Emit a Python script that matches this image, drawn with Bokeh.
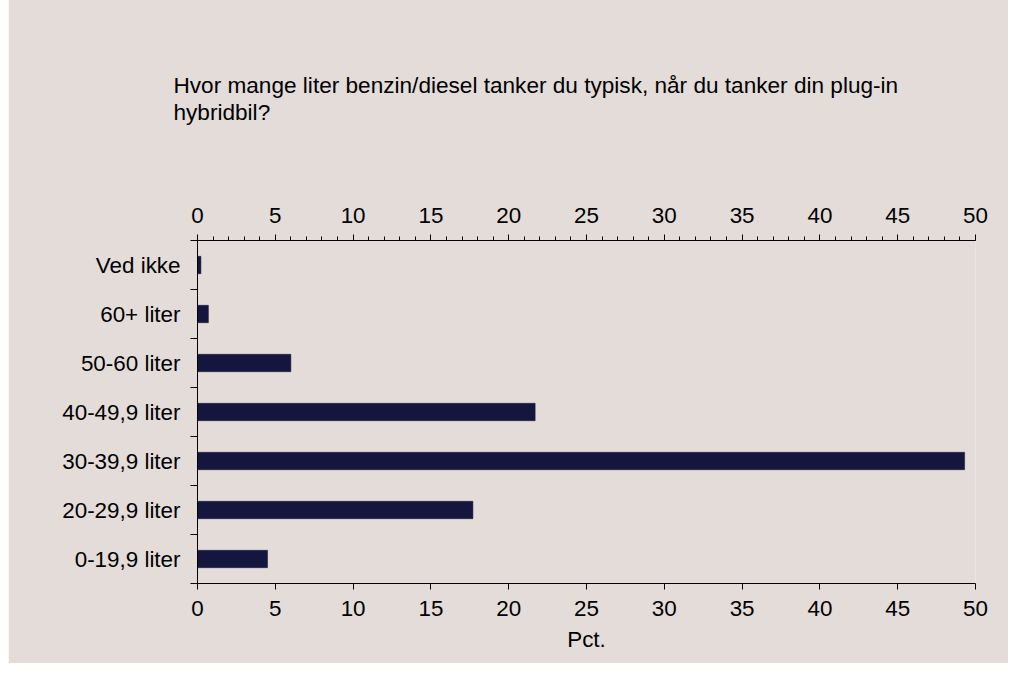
from bokeh.plotting import figure
from bokeh.models import LinearAxis, FixedTicker, Title, Range1d, SingleIntervalTicker
from bokeh.embed import file_html
from bokeh.resources import INLINE

categories = ["0-19,9 liter", "20-29,9 liter", "30-39,9 liter", "40-49,9 liter",
              "50-60 liter", "60+ liter", "Ved ikke"]
values = [4.5, 17.7, 49.3, 21.7, 6.0, 0.7, 0.22]
x_ticks = [0, 5, 10, 15, 20, 25, 30, 35, 40, 45, 50]
title_text = ("Hvor mange liter benzin/diesel tanker du typisk, når du tanker din plug-in\n"
              "hybridbil?")
x_label = "Pct."

BG = "#e3dcd9"
BAR = "#15163d"
FONT = "Liberation Sans"
FS = "22.4px"

idx = list(range(len(categories)))

p = figure(width=1000, height=672, output_backend="svg", toolbar_location=None,
           x_range=Range1d(0, 50), y_range=Range1d(-0.5, len(categories) - 0.5),
           x_axis_location=None, y_axis_location=None,
           min_border_left=189, min_border_right=33, min_border_top=248, min_border_bottom=80)
p.margin = (-9, 0, 0, 8)
p.background_fill_color = BG
p.border_fill_color = BG
p.outline_line_color = None
p.xgrid.visible = False
p.ygrid.visible = False

p.hbar(y=idx, right=values, left=0, height=0.355, fill_color=BAR, line_color=BAR, line_width=0.5)

def style(ax):
    ax.axis_line_color = "black"
    ax.major_tick_line_color = "black"
    ax.minor_tick_line_color = "black"
    ax.major_label_text_font = FONT
    ax.major_label_text_font_size = FS
    ax.major_label_text_color = "black"
    ax.axis_label_text_font = FONT
    ax.axis_label_text_font_size = FS
    ax.axis_label_text_font_style = "normal"
    ax.axis_label_text_color = "black"

# top axis
top = LinearAxis(ticker=SingleIntervalTicker(interval=5, num_minor_ticks=5))
style(top)
top.major_tick_in = 0
top.major_tick_out = 6
top.minor_tick_in = 0
top.minor_tick_out = 4
top.major_label_standoff = 12
p.add_layout(top, "above")

# bottom axis
bottom = LinearAxis(ticker=FixedTicker(ticks=x_ticks), axis_label=x_label)
style(bottom)
bottom.major_tick_in = 0
bottom.major_tick_out = 6
bottom.minor_tick_line_color = None
bottom.major_label_standoff = 11
bottom.axis_label_standoff = 8
p.add_layout(bottom, "below")

# left axis
left = LinearAxis(ticker=FixedTicker(ticks=idx, minor_ticks=[i - 0.5 for i in range(len(categories) + 1)]))
style(left)
left.major_tick_in = 0
left.major_tick_out = 0
left.minor_tick_in = 0
left.minor_tick_out = 7
left.major_label_standoff = 10
left.major_label_overrides = {i: c for i, c in enumerate(categories)}
p.add_layout(left, "left")

t = Title(text=title_text, align="left", offset=-24, standoff=160,
          text_font=FONT, text_font_size="22.6px", text_font_style="normal",
          text_color="black", text_line_height=1.05)
p.add_layout(t, "above")

open("out.html", "w").write(file_html(p, INLINE))
